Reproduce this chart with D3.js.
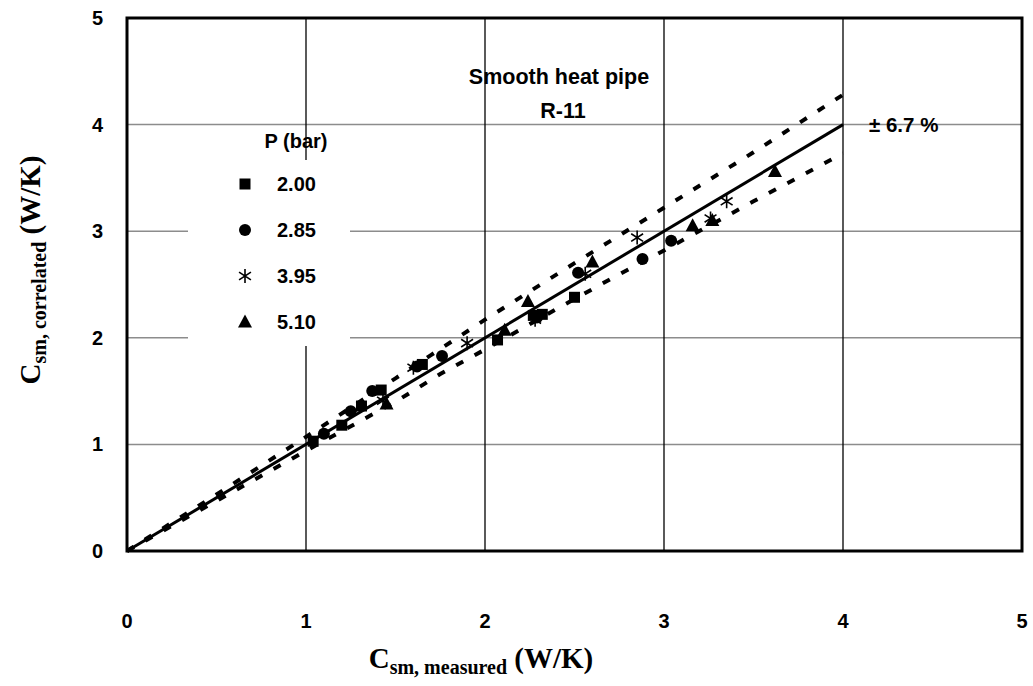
<!DOCTYPE html>
<html>
<head>
<meta charset="utf-8">
<script src="https://cdn.jsdelivr.net/npm/d3@7"></script>
<style>
  body { margin: 0; background: #fff; }
  svg { display: block; font-family: "Liberation Sans", Arial, sans-serif; }
  .tick-lbl { font-size: 20px; font-weight: bold; }
  .axis-title { font-family: "Liberation Serif", "Times New Roman", serif; font-weight: bold; }
</style>
</head>
<body>
<div id="chart"></div>
<script>
// tick values
const xTicks = [0, 1, 2, 3, 4, 5];
const yTicks = [0, 1, 2, 3, 4, 5];

// legend series (pressure, bar)
const seriesNames = ["2.00", "2.85", "3.95", "5.10"];
const seriesShapes = ["square", "circle", "asterisk", "triangle"];

// measured vs correlated
const p200 = [[1.04, 1.03], [1.20, 1.18], [1.31, 1.36], [1.42, 1.51], [1.65, 1.75],
  [2.07, 1.98], [2.27, 2.21], [2.32, 2.22], [2.50, 2.38]];
const p285 = [[1.10, 1.10], [1.25, 1.31], [1.37, 1.50], [1.62, 1.73], [1.76, 1.83],
  [2.29, 2.19], [2.52, 2.61], [2.88, 2.74], [3.04, 2.91]];
const p395 = [[1.43, 1.41], [1.60, 1.72], [1.90, 1.95], [2.28, 2.17], [2.56, 2.60],
  [2.85, 2.94], [3.26, 3.12], [3.35, 3.28]];
const p510 = [[1.45, 1.38], [2.11, 2.07], [2.24, 2.34], [2.60, 2.71], [3.16, 3.05],
  [3.27, 3.10], [3.62, 3.56]];

// perfect agreement line and the +/- band
const fitLine = [[0, 0], [4, 4]];
const bandUpper = [[0, 0], [0.5, 0.53], [1.0, 1.07], [1.5, 1.62], [1.7, 1.84], [2.0, 2.17],
  [2.5, 2.70], [2.75, 2.96], [3.0, 3.22], [3.5, 3.74], [4.0, 4.28]];
const bandLower = [[0, 0], [0.5, 0.47], [1.0, 0.94], [1.5, 1.40], [1.75, 1.66], [2.0, 1.89],
  [2.4, 2.27], [2.7, 2.55], [3.0, 2.82], [3.5, 3.28], [4.0, 3.73]];

const W = 1033, H = 686;
const margin = { left: 127, right: 11, top: 18, bottom: 135 };

const svg = d3.select('#chart').append('svg').attr('width', W).attr('height', H);

const x = d3.scaleLinear().domain([0, 5]).range([margin.left, W - margin.right]);
const y = d3.scaleLinear().domain([0, 5]).range([H - margin.bottom, margin.top]);

// horizontal grid (grey) and vertical grid (black)
svg.append('g').selectAll('line').data(yTicks.slice(1, -1)).join('line')
  .attr('x1', x(0)).attr('x2', x(5))
  .attr('y1', d => y(d)).attr('y2', d => y(d))
  .attr('stroke', '#8c8c8c').attr('stroke-width', 1.5);
svg.append('g').selectAll('line').data(xTicks.slice(1, -1)).join('line')
  .attr('y1', y(0)).attr('y2', y(5))
  .attr('x1', d => x(d)).attr('x2', d => x(d))
  .attr('stroke', '#000').attr('stroke-width', 1.3);

// legend background hides the grid under it
svg.append('rect')
  .attr('x', 188).attr('y', 160).attr('width', 162).attr('height', 186)
  .attr('fill', '#fff');

// frame
svg.append('rect')
  .attr('x', x(0)).attr('y', y(5))
  .attr('width', x(5) - x(0)).attr('height', y(0) - y(5))
  .attr('fill', 'none').attr('stroke', '#000').attr('stroke-width', 3);

// tick labels
svg.append('g').selectAll('text').data(xTicks).join('text')
  .attr('class', 'tick-lbl')
  .attr('x', d => x(d)).attr('y', y(0) + 77)
  .attr('text-anchor', 'middle')
  .text(d => d);
svg.append('g').selectAll('text').data(yTicks).join('text')
  .attr('class', 'tick-lbl')
  .attr('x', x(0) - 24).attr('y', d => y(d) + 7)
  .attr('text-anchor', 'end')
  .text(d => d);

// band and fit lines
const line = d3.line().x(d => x(d[0])).y(d => y(d[1]));
[bandUpper, bandLower].forEach(b => {
  svg.append('path').attr('d', line(b))
    .attr('fill', 'none').attr('stroke', '#000')
    .attr('stroke-width', 4).attr('stroke-dasharray', '8,13');
});
svg.append('path').attr('d', line(fitLine))
  .attr('fill', 'none').attr('stroke', '#000').attr('stroke-width', 3);

// markers
function drawMarker(g, shape, cx, cy) {
  if (shape === 'square') {
    g.append('rect').attr('x', cx - 5.5).attr('y', cy - 5.5).attr('width', 11).attr('height', 11).attr('fill', '#000');
  } else if (shape === 'circle') {
    g.append('circle').attr('cx', cx).attr('cy', cy).attr('r', 6).attr('fill', '#000');
  } else if (shape === 'triangle') {
    g.append('path').attr('d', `M${cx},${cy - 7.5}L${cx + 7},${cy + 5.5}L${cx - 7},${cy + 5.5}Z`).attr('fill', '#000');
  } else {
    const r = 7;
    g.append('path')
      .attr('d', `M${cx},${cy - r}V${cy + r}M${cx - r * 0.85},${cy - r * 0.55}L${cx + r * 0.85},${cy + r * 0.55}M${cx - r * 0.85},${cy + r * 0.55}L${cx + r * 0.85},${cy - r * 0.55}`)
      .attr('stroke', '#000').attr('stroke-width', 1.6).attr('fill', 'none');
  }
}

const allSeries = [p200, p285, p395, p510];
allSeries.forEach((pts, i) => {
  const g = svg.append('g');
  pts.forEach(p => drawMarker(g, seriesShapes[i], x(p[0]), y(p[1])));
});

// legend
svg.append('text').attr('x', 296).attr('y', 148)
  .attr('text-anchor', 'middle').attr('font-size', 20).attr('font-weight', 'bold')
  .text('P (bar)');
seriesNames.forEach((name, i) => {
  const ly = 184 + i * 46;
  drawMarker(svg.append('g'), seriesShapes[i], 245, ly);
  svg.append('text').attr('x', 277).attr('y', ly + 7)
    .attr('font-size', 20).attr('font-weight', 'bold').text(name);
});

// annotations
svg.append('text').attr('x', 559).attr('y', 84)
  .attr('text-anchor', 'middle').attr('font-size', 21.5).attr('font-weight', 'bold')
  .text('Smooth heat pipe');
svg.append('text').attr('x', 563).attr('y', 118)
  .attr('text-anchor', 'middle').attr('font-size', 21.5).attr('font-weight', 'bold')
  .text('R-11');
svg.append('text').attr('x', 869).attr('y', 132)
  .attr('font-size', 20.5).attr('font-weight', 'bold')
  .text('± 6.7 %');

// axis titles
const xt = svg.append('text').attr('class', 'axis-title')
  .attr('x', 481).attr('y', 668).attr('text-anchor', 'middle');
xt.append('tspan').attr('font-size', 29).text('C');
xt.append('tspan').attr('font-size', 20).attr('dy', 6).text('sm, measured');
xt.append('tspan').attr('font-size', 29).attr('dy', -6).text(' (W/K)');

const yt = svg.append('text').attr('class', 'axis-title')
  .attr('transform', 'translate(40,270) rotate(-90)').attr('text-anchor', 'middle');
yt.append('tspan').attr('font-size', 29).text('C');
yt.append('tspan').attr('font-size', 20).attr('dy', 6).text('sm, correlated');
yt.append('tspan').attr('font-size', 29).attr('dy', -6).text(' (W/K)');
</script>
</body>
</html>
